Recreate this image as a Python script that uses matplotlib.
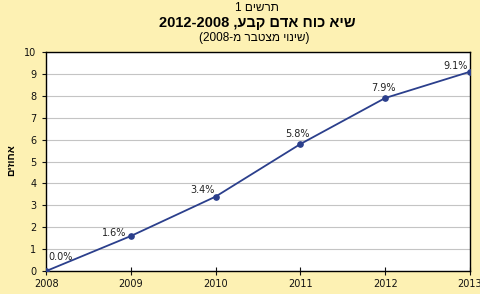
"""Hebrew line chart: cumulative change in permanent staff peak, 2008-2013."""

import matplotlib

matplotlib.use("Agg")
import matplotlib.pyplot as plt

years = [2008, 2009, 2010, 2011, 2012, 2013]
values = [0.0, 1.6, 3.4, 5.8, 7.9, 9.1]
labels = ["0.0%", "1.6%", "3.4%", "5.8%", "7.9%", "9.1%"]

# Hebrew strings in visual (left-to-right) order, since matplotlib has no bidi
chart_no = "1 םישרת"
title = "2012-2008 ,עבק םדא חוכ איש"
subtitle = "(2008-מ רבטצמ יוניש)"
ylabel = "םיזוחא"

BG = "#FDF1B3"
LINE = "#2B3F8C"
HEB = ["Liberation Sans", "DejaVu Sans"]

plt.rcParams["font.family"] = ["DejaVu Sans"]

fig = plt.figure(figsize=(4.8, 2.94), dpi=100, facecolor=BG)
ax = fig.add_axes([0.096, 0.078, 0.883, 0.745])
ax.set_facecolor("white")

ax.plot(years, values, color=LINE, lw=1.3, marker="o", ms=3.8, zorder=3)

# label offsets in pixels (dx, dy) relative to each point
offs = [(14, 14), (-17, 3), (-13, 7), (-3, 10), (-2, 10), (-14, 6)]
for x, y, s, (dx, dy) in zip(years, values, labels, offs):
    ax.annotate(s, (x, y), xytext=(dx * 0.72, dy * 0.72), textcoords="offset points",
                ha="center", va="center", fontsize=7, color="#222222")

ax.set_xlim(2008, 2013)
ax.set_ylim(0, 10)
ax.set_xticks(years)
ax.set_yticks(range(0, 11))
ax.grid(axis="y", color="#C4C4C4", lw=0.8)
ax.set_axisbelow(True)
ax.tick_params(axis="x", direction="inout", length=6, labelsize=7, pad=3, colors="#111111")
ax.tick_params(axis="y", direction="out", length=3, labelsize=7, pad=4, colors="#111111")
for sp in ax.spines.values():
    sp.set_color("black")
    sp.set_linewidth(1.0)

fig.text(11 / 480, 1 - 160 / 294, ylabel, rotation=90, fontsize=7.5, fontweight="bold",
         family=HEB, ha="center", va="center")

cx = 257 / 480
fig.text(cx, 1 - 8 / 294, chart_no, ha="center", va="center", fontsize=8.5, family=HEB)
fig.text(cx, 1 - 23 / 294, title, ha="center", va="center", fontsize=10.5,
         fontweight="bold", family=HEB)
fig.text(254 / 480, 1 - 38 / 294, subtitle, ha="center", va="center", fontsize=8.5,
         family=HEB)

fig.savefig("out.png", dpi=100, facecolor=BG)
